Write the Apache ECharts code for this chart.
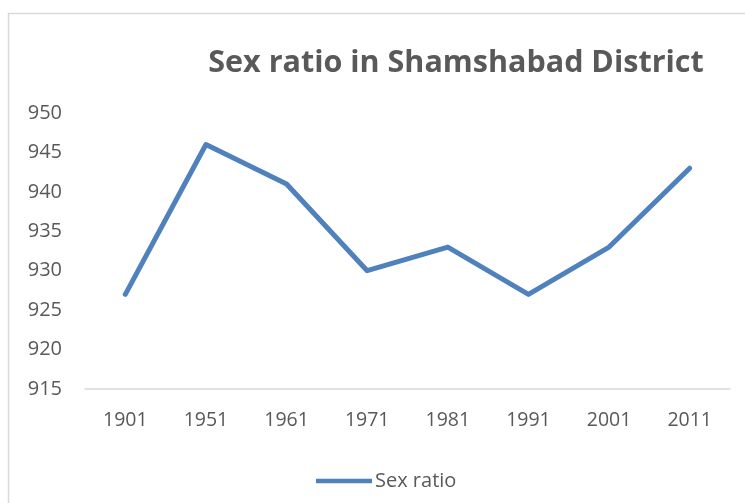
<!DOCTYPE html>
<html><head><meta charset="utf-8">
<script src="https://cdn.jsdelivr.net/npm/echarts@6/dist/echarts.min.js"></script>
<style>html,body{margin:0;padding:0;background:#fff}#c{width:745px;height:503px}</style>
</head><body><div id="c"></div>
<script>
const title = 'Sex ratio in Shamshabad District';
const seriesName = 'Sex ratio';
const years = ['1901','1951','1961','1971','1981','1991','2001','2011'];
const sexRatio = [927, 946, 941, 930, 933, 927, 933, 943];
const yMin = 915, yMax = 950, yStep = 5;

const chart = echarts.init(document.getElementById('c'));
const txt = '#595959';
const font = 'Open Sans, Liberation Sans, sans-serif';
chart.setOption({
  animation: false,
  graphic: [{type:'rect', shape:{x:8.5,y:13.5,width:800,height:600}, style:{fill:'none', stroke:'#d9d9d9', lineWidth:1.5}, z:-1}],
  title: {text: title, left: 451, top: 43, textAlign: 'center',
    textStyle: {color: txt, fontSize: 30.5, fontWeight: 'bold', fontFamily: font}},
  legend: {data:[seriesName], left: 311, top: 466, itemWidth: 56, itemHeight: 14, itemGap: 4,
    icon: 'path://M0,4.75 L56,4.75 L56,9.25 L0,9.25 Z',
    textStyle: {color: txt, fontSize: 20, fontFamily: font, padding:[0,0,0,-2]}},
  grid: {left: 85, right: 15, top: 113, bottom: 114, containLabel: false},
  xAxis: {type:'category', data: years, boundaryGap: true,
    axisLine:{lineStyle:{color:'#d9d9d9', width:1.5}}, axisTick:{show:false},
    axisLabel:{color: txt, fontSize: 19.5, fontFamily: font, margin: 21}},
  yAxis: {type:'value', min: yMin, max: yMax, interval: yStep,
    axisLine:{show:false}, axisTick:{show:false}, splitLine:{show:false},
    axisLabel:{color: txt, fontSize: 20, fontFamily: font, margin: 23}},
  series: [{name: seriesName, type:'line', data: sexRatio, symbol:'none',
    lineStyle:{color:'#4f81bd', width:5, cap:'round', join:'round'}, itemStyle:{color:'#4f81bd'}}]
});
</script></body></html>
